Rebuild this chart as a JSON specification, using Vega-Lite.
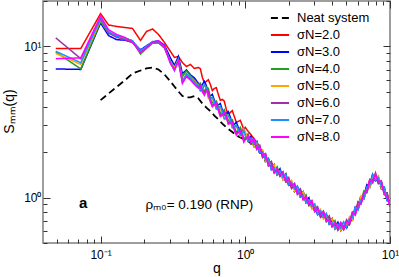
{
  "$schema": "https://vega.github.io/schema/vega-lite/v6.json",
  "width": 347,
  "height": 242,
  "autosize": {"type": "none"},
  "padding": {"left": 43, "top": 1, "right": 9, "bottom": 34},
  "background": "white",
  "config": {
    "font": "Liberation Sans",
    "view": {"stroke": "#7f7f7f", "strokeWidth": 1.5},
    "axis": {"grid": false, "domain": false, "labelColor": "black", "titleColor": "black", "tickColor": "#333333", "labelFont": "Liberation Sans", "titleFont": "Liberation Sans", "titleFontWeight": "normal"}
  },
  "datasets": {
    "curves": [
      {"q":0.049,"neat":null,"s2":9.7,"s3":7.1,"s4":9.2,"s5":9.0,"s6":11.4,"s7":9.3,"s8":8.3},
      {"q":0.073,"neat":null,"s2":9.7,"s3":7.05,"s4":7.1,"s5":7.6,"s6":8.3,"s7":7.8,"s8":8.4},
      {"q":0.1,"neat":4.41,"s2":16.5,"s3":14.3,"s4":14.6,"s5":15.0,"s6":15.2,"s7":15.5,"s8":15.9},
      {"q":0.1135,"neat":4.88,"s2":13.88,"s3":11.8,"s4":12.2,"s5":12.4,"s6":12.3,"s7":12.6,"s8":12.9},
      {"q":0.1289,"neat":5.39,"s2":13.57,"s3":11.1,"s4":11.8,"s5":11.6,"s6":11.5,"s7":11.7,"s8":12.0},
      {"q":0.1464,"neat":5.95,"s2":13.36,"s3":11.0,"s4":11.4,"s5":11.2,"s6":11.1,"s7":11.4,"s8":11.5},
      {"q":0.1662,"neat":6.62,"s2":13.16,"s3":10.7,"s4":10.9,"s5":10.8,"s6":10.6,"s7":10.9,"s8":10.7},
      {"q":0.1887,"neat":6.93,"s2":10.96,"s3":9.5,"s4":8.9,"s5":9.3,"s6":9.2,"s7":9.4,"s8":9.1},
      {"q":0.2076,"neat":7.15,"s2":12.57,"s3":10.1,"s4":9.7,"s5":9.9,"s6":9.8,"s7":10.0,"s8":9.8},
      {"q":0.2284,"neat":7.26,"s2":13.06,"s3":10.7,"s4":10.5,"s5":10.6,"s6":10.6,"s7":10.8,"s8":10.7},
      {"q":0.2512,"neat":7.04,"s2":12.01,"s3":10.9,"s4":10.6,"s5":10.7,"s6":10.6,"s7":10.8,"s8":10.9},
      {"q":0.2763,"neat":6.53,"s2":10.63,"s3":10.2,"s4":9.8,"s5":9.9,"s6":9.8,"s7":10.0,"s8":10.0},
      {"q":0.3039,"neat":5.87,"s2":9.27,"s3":8.4,"s4":8.0,"s5":7.9,"s6":7.8,"s7":7.9,"s8":7.7},
      {"q":0.3238,"neat":5.43,"s2":8.46,"s3":7.5,"s4":7.3,"s5":7.2,"s6":7.0,"s7":6.9,"s8":7.0},
      {"q":0.345,"neat":5.04,"s2":8.58,"s3":8.6,"s4":8.3,"s5":8.1,"s6":8.0,"s7":8.2,"s8":8.0},
      {"q":0.3677,"neat":4.70,"s2":7.83,"s3":6.6,"s4":6.3,"s5":6.0,"s6":5.9,"s7":5.8,"s8":5.7},
      {"q":0.3918,"neat":4.60,"s2":7.37,"s3":7.0,"s4":6.9,"s5":6.5,"s6":6.4,"s7":6.6,"s8":6.3},
      {"q":0.4175,"neat":4.60,"s2":7.60,"s3":6.5,"s4":6.4,"s5":6.2,"s6":6.1,"s7":6.2,"s8":6.0},
      {"q":0.4448,"neat":4.69,"s2":7.15,"s3":6.2,"s4":6.0,"s5":5.9,"s6":5.8,"s7":5.7,"s8":5.6},
      {"q":0.474,"neat":4.53,"s2":7.26,"s3":5.7,"s4":5.6,"s5":5.5,"s6":5.4,"s7":5.5,"s8":5.3},
      {"q":0.4893,"neat":null,"s2":7.12,"s3":5.31,"s4":5.72,"s5":5.08,"s6":5.57,"s7":5.08,"s8":5.46},
      {"q":0.5051,"neat":4.19,"s2":6.23,"s3":5.6,"s4":5.3,"s5":5.2,"s6":5.1,"s7":5.2,"s8":5.0},
      {"q":0.5215,"neat":null,"s2":5.75,"s3":5.88,"s4":5.03,"s5":5.57,"s6":4.89,"s7":5.57,"s8":4.75},
      {"q":0.5383,"neat":3.94,"s2":5.87,"s3":5.5,"s4":5.4,"s5":5.3,"s6":5.2,"s7":5.3,"s8":5.1},
      {"q":0.5556,"neat":null,"s2":6.02,"s3":4.83,"s4":5.28,"s5":4.54,"s6":5.07,"s7":4.64,"s8":4.91},
      {"q":0.5735,"neat":3.73,"s2":5.60,"s3":4.7,"s4":4.6,"s5":4.4,"s6":4.4,"s7":4.5,"s8":4.3},
      {"q":0.592,"neat":null,"s2":5.10,"s3":4.82,"s4":4.23,"s5":4.56,"s6":4.04,"s7":4.62,"s8":3.99},
      {"q":0.6111,"neat":3.49,"s2":5.27,"s3":4.4,"s4":4.3,"s5":4.2,"s6":4.2,"s7":4.3,"s8":4.1},
      {"q":0.631,"neat":null,"s2":5.33,"s3":4.0,"s4":4.36,"s5":3.85,"s6":4.24,"s7":3.85,"s8":4.19},
      {"q":0.6512,"neat":3.29,"s2":4.81,"s3":4.1,"s4":4.0,"s5":3.9,"s6":3.8,"s7":3.9,"s8":3.8},
      {"q":0.672,"neat":null,"s2":4.40,"s3":4.19,"s4":3.62,"s5":3.98,"s6":3.52,"s7":4.03,"s8":3.43},
      {"q":0.6939,"neat":3.09,"s2":4.46,"s3":3.8,"s4":3.7,"s5":3.6,"s6":3.6,"s7":3.7,"s8":3.5},
      {"q":0.716,"neat":null,"s2":4.34,"s3":3.52,"s4":3.82,"s5":3.29,"s6":3.68,"s7":3.33,"s8":3.66},
      {"q":0.7395,"neat":2.91,"s2":3.83,"s3":3.6,"s4":3.5,"s5":3.4,"s6":3.4,"s7":3.3,"s8":3.4},
      {"q":0.763,"neat":null,"s2":3.52,"s3":3.71,"s4":3.23,"s5":3.50,"s6":3.10,"s7":3.50,"s8":3.06},
      {"q":0.788,"neat":2.78,"s2":3.66,"s3":3.4,"s4":3.3,"s5":3.2,"s6":3.2,"s7":3.3,"s8":3.1},
      {"q":0.813,"neat":null,"s2":3.76,"s3":3.03,"s4":3.28,"s5":2.90,"s6":3.20,"s7":2.90,"s8":3.13},
      {"q":0.8397,"neat":2.65,"s2":3.44,"s3":3.05,"s4":2.95,"s5":2.9,"s6":2.85,"s7":2.9,"s8":2.8},
      {"q":0.867,"neat":null,"s2":3.14,"s3":3.15,"s4":2.70,"s5":2.99,"s6":2.66,"s7":3.02,"s8":2.59},
      {"q":0.8948,"neat":2.54,"s2":3.19,"s3":2.9,"s4":2.8,"s5":2.75,"s6":2.75,"s7":2.8,"s8":2.7},
      {"q":0.924,"neat":null,"s2":3.24,"s3":2.68,"s4":2.92,"s5":2.54,"s6":2.80,"s7":2.58,"s8":2.78},
      {"q":0.9535,"neat":2.46,"s2":3.00,"s3":2.75,"s4":2.7,"s5":2.65,"s6":2.6,"s7":2.65,"s8":2.55},
      {"q":0.9765,"neat":null,"s2":2.80,"s3":2.86,"s4":2.44,"s5":2.85,"s6":2.38,"s7":2.77,"s8":2.33},
      {"q":1.000,"neat":2.42,"s2":2.91,"s3":2.65,"s4":2.50,"s5":2.73,"s6":2.42,"s7":2.57,"s8":2.42},
      {"q":1.047,"neat":2.36,"s2":2.74,"s3":2.42,"s4":2.65,"s5":2.35,"s6":2.50,"s7":2.35,"s8":2.57},
      {"q":1.096,"neat":2.28,"s2":2.60,"s3":2.55,"s4":2.26,"s5":2.40,"s6":2.26,"s7":2.48,"s8":2.33},
      {"q":1.148,"neat":2.24,"s2":2.46,"s3":2.17,"s4":2.31,"s5":2.17,"s6":2.38,"s7":2.24,"s8":2.45},
      {"q":1.202,"neat":2.34,"s2":2.31,"s3":2.21,"s4":2.08,"s5":2.28,"s6":2.14,"s7":2.34,"s8":2.08},
      {"q":1.259,"neat":1.97,"s2":2.16,"s3":1.97,"s4":2.16,"s5":2.03,"s6":2.22,"s7":1.97,"s8":2.16},
      {"q":1.318,"neat":1.96,"s2":1.84,"s3":2.01,"s4":1.90,"s5":2.07,"s6":1.84,"s7":2.01,"s8":1.90},
      {"q":1.380,"neat":1.73,"s2":1.90,"s3":1.78,"s4":1.95,"s5":1.73,"s6":1.90,"s7":1.78,"s8":1.95},
      {"q":1.445,"neat":1.77,"s2":1.67,"s3":1.82,"s4":1.62,"s5":1.77,"s6":1.67,"s7":1.82,"s8":1.62},
      {"q":1.514,"neat":1.58,"s2":1.73,"s3":1.53,"s4":1.68,"s5":1.58,"s6":1.73,"s7":1.53,"s8":1.63},
      {"q":1.585,"neat":1.65,"s2":1.46,"s3":1.60,"s4":1.51,"s5":1.65,"s6":1.46,"s7":1.56,"s8":1.46},
      {"q":1.660,"neat":1.42,"s2":1.56,"s3":1.46,"s4":1.60,"s5":1.42,"s6":1.51,"s7":1.42,"s8":1.56},
      {"q":1.738,"neat":1.51,"s2":1.42,"s3":1.55,"s4":1.38,"s5":1.46,"s6":1.38,"s7":1.51,"s8":1.42},
      {"q":1.820,"neat":1.36,"s2":1.48,"s3":1.31,"s4":1.40,"s5":1.31,"s6":1.44,"s7":1.36,"s8":1.48},
      {"q":1.905,"neat":1.43,"s2":1.27,"s3":1.35,"s4":1.27,"s5":1.39,"s6":1.31,"s7":1.43,"s8":1.27},
      {"q":1.995,"neat":1.21,"s2":1.29,"s3":1.21,"s4":1.32,"s5":1.25,"s6":1.36,"s7":1.21,"s8":1.32},
      {"q":2.089,"neat":1.23,"s2":1.15,"s3":1.26,"s4":1.19,"s5":1.30,"s6":1.15,"s7":1.26,"s8":1.19},
      {"q":2.188,"neat":1.10,"s2":1.21,"s3":1.14,"s4":1.24,"s5":1.10,"s6":1.21,"s7":1.14,"s8":1.24},
      {"q":2.291,"neat":1.15,"s2":1.09,"s3":1.19,"s4":1.05,"s5":1.15,"s6":1.09,"s7":1.19,"s8":1.05},
      {"q":2.399,"neat":1.05,"s2":1.14,"s3":1.01,"s4":1.11,"s5":1.05,"s6":1.14,"s7":1.01,"s8":1.08},
      {"q":2.512,"neat":1.09,"s2":0.97,"s3":1.06,"s4":1.00,"s5":1.09,"s6":0.97,"s7":1.03,"s8":0.97},
      {"q":2.630,"neat":0.926,"s2":1.015,"s3":0.955,"s4":1.044,"s5":0.926,"s6":0.985,"s7":0.926,"s8":1.015},
      {"q":2.754,"neat":0.969,"s2":0.913,"s3":0.997,"s4":0.885,"s5":0.941,"s6":0.885,"s7":0.969,"s8":0.913},
      {"q":2.884,"neat":0.872,"s2":0.953,"s3":0.845,"s4":0.899,"s5":0.845,"s6":0.926,"s7":0.872,"s8":0.953},
      {"q":3.020,"neat":0.909,"s2":0.807,"s3":0.858,"s4":0.807,"s5":0.884,"s6":0.832,"s7":0.909,"s8":0.807},
      {"q":3.162,"neat":0.771,"s2":0.820,"s3":0.771,"s4":0.845,"s5":0.795,"s6":0.869,"s7":0.771,"s8":0.845},
      {"q":3.311,"neat":0.790,"s2":0.743,"s3":0.814,"s4":0.766,"s5":0.837,"s6":0.743,"s7":0.814,"s8":0.766},
      {"q":3.467,"neat":0.720,"s2":0.789,"s3":0.743,"s4":0.812,"s5":0.720,"s6":0.789,"s7":0.743,"s8":0.812},
      {"q":3.631,"neat":0.759,"s2":0.715,"s3":0.781,"s4":0.693,"s5":0.759,"s6":0.715,"s7":0.781,"s8":0.693},
      {"q":3.802,"neat":0.689,"s2":0.753,"s3":0.667,"s4":0.731,"s5":0.689,"s6":0.753,"s7":0.667,"s8":0.710},
      {"q":3.981,"neat":0.724,"s2":0.642,"s3":0.703,"s4":0.663,"s5":0.724,"s6":0.642,"s7":0.683,"s8":0.642},
      {"q":4.169,"neat":0.623,"s2":0.683,"s3":0.643,"s4":0.703,"s5":0.623,"s6":0.663,"s7":0.623,"s8":0.683},
      {"q":4.365,"neat":0.667,"s2":0.629,"s3":0.687,"s4":0.609,"s5":0.648,"s6":0.609,"s7":0.667,"s8":0.629},
      {"q":4.571,"neat":0.624,"s2":0.682,"s3":0.604,"s4":0.643,"s5":0.604,"s6":0.662,"s7":0.624,"s8":0.682},
      {"q":4.786,"neat":0.692,"s2":0.614,"s3":0.653,"s4":0.614,"s5":0.673,"s6":0.633,"s7":0.692,"s8":0.614},
      {"q":5.012,"neat":0.633,"s2":0.673,"s3":0.633,"s4":0.693,"s5":0.653,"s6":0.713,"s7":0.633,"s8":0.693},
      {"q":5.248,"neat":0.704,"s2":0.662,"s3":0.725,"s4":0.683,"s5":0.746,"s6":0.662,"s7":0.725,"s8":0.683},
      {"q":5.495,"neat":0.709,"s2":0.777,"s3":0.731,"s4":0.799,"s5":0.709,"s6":0.777,"s7":0.731,"s8":0.799},
      {"q":5.754,"neat":0.838,"s2":0.790,"s3":0.863,"s4":0.765,"s5":0.838,"s6":0.790,"s7":0.863,"s8":0.765},
      {"q":6.026,"neat":0.858,"s2":0.938,"s3":0.832,"s4":0.912,"s5":0.858,"s6":0.938,"s7":0.832,"s8":0.885},
      {"q":6.310,"neat":1.028,"s2":0.912,"s3":0.999,"s4":0.941,"s5":1.028,"s6":0.912,"s7":0.970,"s8":0.912},
      {"q":6.607,"neat":0.984,"s2":1.078,"s3":1.016,"s4":1.110,"s5":0.984,"s6":1.047,"s7":0.984,"s8":1.078},
      {"q":6.918,"neat":1.181,"s2":1.113,"s3":1.216,"s4":1.078,"s5":1.147,"s6":1.078,"s7":1.181,"s8":1.113},
      {"q":7.244,"neat":1.201,"s2":1.312,"s3":1.164,"s4":1.238,"s5":1.164,"s6":1.275,"s7":1.201,"s8":1.312},
      {"q":7.586,"neat":1.416,"s2":1.256,"s3":1.336,"s4":1.256,"s5":1.376,"s6":1.296,"s7":1.416,"s8":1.256},
      {"q":7.943,"neat":1.294,"s2":1.377,"s3":1.294,"s4":1.418,"s5":1.336,"s6":1.460,"s7":1.294,"s8":1.418},
      {"q":8.318,"neat":1.316,"s2":1.237,"s3":1.355,"s4":1.277,"s5":1.395,"s6":1.237,"s7":1.355,"s8":1.277},
      {"q":8.710,"neat":1.146,"s2":1.256,"s3":1.182,"s4":1.292,"s5":1.146,"s6":1.256,"s7":1.182,"s8":1.292},
      {"q":9.120,"neat":1.146,"s2":1.080,"s3":1.180,"s4":1.046,"s5":1.146,"s6":1.080,"s7":1.180,"s8":1.046},
      {"q":9.550,"neat":0.985,"s2":1.076,"s3":0.954,"s4":1.045,"s5":0.985,"s6":1.076,"s7":0.954,"s8":1.015},
      {"q":10.0,"neat":0.983,"s2":0.871,"s3":0.955,"s4":0.899,"s5":0.983,"s6":0.871,"s7":0.927,"s8":0.871}
    ]
  },
  "layer": [
    {
      "layer": [
        {
          "data": {"name": "curves"},
          "transform": [
            {"fold": ["neat"], "as": ["series", "S"]},
            {"filter": "datum.S != null"}
          ],
          "mark": {"type": "line", "strokeWidth": 1.8, "clip": true},
          "encoding": {
            "x": {
              "field": "q", "type": "quantitative",
              "scale": {"type": "log", "domain": [0.04, 10], "nice": false},
              "axis": {
                "orient": "bottom",
                "values": [0.05,0.06,0.07,0.08,0.09,0.1,0.2,0.3,0.4,0.5,0.6,0.7,0.8,0.9,1,2,3,4,5,6,7,8,9,10],
                "labelExpr": "datum.value == 0.1 ? '10⁻¹' : datum.value == 1 ? '10⁰' : datum.value == 10 ? '10¹' : ''",
                "tickSize": {"condition": {"test": "datum.value == 0.1 || datum.value == 1 || datum.value == 10", "value": -7}, "value": -4},
                "labelFontSize": 12,
                "labelPadding": 13,
                "labelFlush": false,
                "labelOverlap": false,
                "labelBound": false,
                "title": "q",
                "titleFontSize": 14,
                "titlePadding": -2
              }
            },
            "y": {
              "field": "S", "type": "quantitative",
              "scale": {"type": "log", "domain": [0.5, 20], "nice": false},
              "axis": {
                "orient": "left",
                "values": [0.5,0.6,0.7,0.8,0.9,1,2,3,4,5,6,7,8,9,10,20],
                "labelExpr": "datum.value == 1 ? '10⁰' : datum.value == 10 ? '10¹' : ''",
                "tickSize": {"condition": {"test": "datum.value == 1 || datum.value == 10", "value": -7}, "value": -4},
                "labelFontSize": 12,
                "labelPadding": 9,
                "labelFlush": false,
                "labelOverlap": false,
                "labelBound": false,
                "title": "Sₘₘ(q)",
                "titleFontSize": 14,
                "titleX": -34,
                "titleY": 110,
                "titleBaseline": "middle",
                "titleAngle": 270
              }
            },
            "color": {
              "field": "series", "type": "nominal",
              "scale": {
                "domain": ["neat","s2","s3","s4","s5","s6","s7","s8"],
                "range": ["#000000","#ff0000","#0000ff","#22a022","#ffa500","#a030a8","#1e90ff","#ff00ff"]
              },
              "legend": {
                "orient": "none",
                "legendX": 227,
                "legendY": 7,
                "title": null,
                "padding": 0,
                "labelExpr": "datum.label == 'neat' ? 'Neat system' : 'σN=' + slice(datum.label, 1) + '.0'",
                "symbolType": "stroke",
                "symbolSize": 330,
                "symbolStrokeWidth": 1.8,
                "labelFontSize": 13,
                "labelFont": "Liberation Sans",
                "labelColor": "black",
                "labelOffset": 7,
                "rowPadding": 0
              }
            },
            "strokeDash": {
              "field": "series", "type": "nominal",
              "scale": {
                "domain": ["neat","s2","s3","s4","s5","s6","s7","s8"],
                "range": [[7,4],[1,0],[1,0],[1,0],[1,0],[1,0],[1,0],[1,0]]
              }
            }
          }
        },
        {
          "data": {"name": "curves"},
          "transform": [
            {"fold": ["s2","s3","s4","s5","s6","s7","s8"], "as": ["series", "S"]}
          ],
          "mark": {"type": "line", "strokeWidth": 1.5, "clip": true},
          "encoding": {
            "x": {"field": "q", "type": "quantitative"},
            "y": {"field": "S", "type": "quantitative"},
            "color": {"field": "series", "type": "nominal"},
            "strokeDash": {"field": "series", "type": "nominal"}
          }
        },
        {
          "data": {"values": [{"q": 0.0757, "S": 0.913, "label": "a"}]},
          "mark": {"type": "text", "fontSize": 15, "fontWeight": "bold", "align": "center", "baseline": "middle", "font": "Liberation Sans", "color": "black"},
          "encoding": {
            "x": {"field": "q", "type": "quantitative"},
            "y": {"field": "S", "type": "quantitative"},
            "text": {"field": "label"}
          }
        },
        {
          "data": {"values": [{"q": 0.204, "S": 0.899, "label": "ρₘ₀= 0.190 (RNP)"}]},
          "mark": {"type": "text", "fontSize": 13.5, "align": "left", "baseline": "middle", "font": "Liberation Sans", "color": "black"},
          "encoding": {
            "x": {"field": "q", "type": "quantitative"},
            "y": {"field": "S", "type": "quantitative"},
            "text": {"field": "label"}
          }
        }
      ]
    },
    {
      "data": {"name": "curves"},
      "mark": {"type": "line", "opacity": 0},
      "encoding": {
        "x": {
          "field": "q", "type": "quantitative",
          "axis": {
            "orient": "top",
            "values": [0.05,0.06,0.07,0.08,0.09,0.1,0.2,0.3,0.4,0.5,0.6,0.7,0.8,0.9,1,2,3,4,5,6,7,8,9,10],
            "labels": false,
            "title": null,
            "tickSize": {"condition": {"test": "datum.value == 0.1 || datum.value == 1 || datum.value == 10", "value": -7}, "value": -4}
          }
        },
        "y": {
          "field": "s8", "type": "quantitative",
          "axis": {
            "orient": "right",
            "values": [0.5,0.6,0.7,0.8,0.9,1,2,3,4,5,6,7,8,9,10,20],
            "labels": false,
            "title": null,
            "tickSize": {"condition": {"test": "datum.value == 1 || datum.value == 10", "value": -7}, "value": -4}
          }
        }
      }
    }
  ],
  "resolve": {"axis": {"x": "independent", "y": "independent"}}
}
